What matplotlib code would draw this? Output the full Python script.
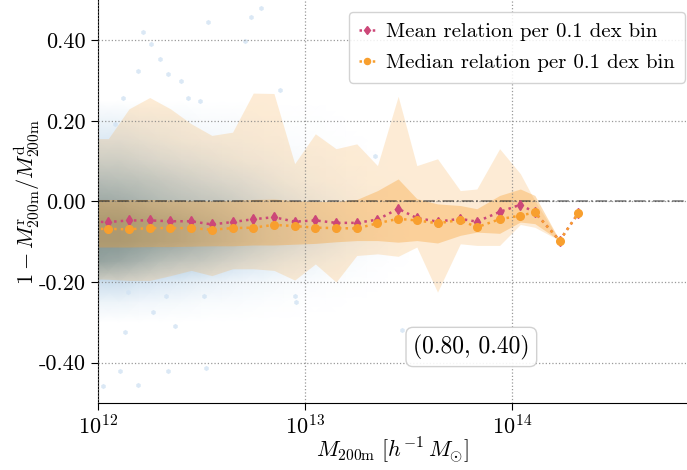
import matplotlib
matplotlib.use('Agg')
import matplotlib.pyplot as plt
from matplotlib.colors import LinearSegmentedColormap
import numpy as np

plt.rcParams['font.family'] = ['cmr10', 'DejaVu Serif']
plt.rcParams['mathtext.fontset'] = 'cm'
plt.rcParams['axes.formatter.use_mathtext'] = True

# log10 mass of each 0.1 dex bin (first one sits just left of the axis)
log_mass = [11.95, 12.05, 12.15, 12.25, 12.35, 12.45, 12.55, 12.65, 12.75, 12.85,
            12.95, 13.05, 13.15, 13.25, 13.35, 13.45, 13.54, 13.64, 13.75, 13.83,
            13.94, 14.04, 14.11, 14.23, 14.32]

mean_rel = [-0.050, -0.051, -0.047, -0.047, -0.049, -0.049, -0.057, -0.051, -0.044, -0.039,
            -0.050, -0.047, -0.053, -0.053, -0.045, -0.018, -0.041, -0.050, -0.043, -0.050,
            -0.026, -0.008, -0.027, -0.097, -0.029]

median_rel = [-0.068, -0.068, -0.069, -0.066, -0.066, -0.066, -0.070, -0.066, -0.065, -0.058,
              -0.061, -0.065, -0.066, -0.067, -0.054, -0.043, -0.047, -0.054, -0.046, -0.064,
              -0.044, -0.035, -0.027, -0.097, -0.029]

# inner (dark) and outer (light) scatter bands
inner_hi = [0.005, 0.005, 0.005, 0.005, 0.004, 0.003, 0.002, 0.003, 0.005, 0.006,
            0.002, 0.000, 0.000, 0.005, 0.027, 0.056, 0.007, -0.006, -0.010, -0.018,
            0.015, 0.031, 0.015, -0.097, -0.029]
inner_lo = [-0.113, -0.113, -0.113, -0.112, -0.112, -0.111, -0.110, -0.110, -0.108, -0.108,
            -0.106, -0.104, -0.100, -0.097, -0.097, -0.101, -0.097, -0.103, -0.084, -0.076,
            -0.079, -0.051, -0.055, -0.097, -0.029]
outer_hi = [0.156, 0.156, 0.230, 0.258, 0.230, 0.193, 0.164, 0.172, 0.269, 0.268,
            0.094, 0.168, 0.131, 0.143, 0.089, 0.261, 0.089, 0.106, 0.027, 0.031,
            0.131, 0.069, 0.002, -0.097, -0.029]
outer_lo = [-0.192, -0.193, -0.196, -0.196, -0.184, -0.171, -0.184, -0.167, -0.167, -0.171,
            -0.195, -0.155, -0.200, -0.134, -0.130, -0.136, -0.113, -0.225, -0.105, -0.109,
            -0.109, -0.057, -0.064, -0.097, -0.029]

# halo density on a coarse grid (rows: offset, cols: log mass)
dens_mass = [12.0, 12.1, 12.2, 12.3, 12.4, 12.5, 12.6, 12.7, 12.8, 12.9,
             13.0, 13.1, 13.2, 13.3, 13.4, 13.5]
dens_off = [0.25, 0.20, 0.15, 0.10, 0.05, 0.00, -0.05, -0.10, -0.15, -0.20, -0.25, -0.30]
density = [
    [0.00, 0.00, 0.00, 0.00, 0.00, 0.00, 0.00, 0.00, 0.00, 0.00, 0.00, 0.00, 0.00, 0.00, 0.00, 0.00],
    [0.15, 0.15, 0.12, 0.10, 0.08, 0.05, 0.05, 0.04, 0.03, 0.02, 0.02, 0.01, 0.00, 0.00, 0.00, 0.00],
    [0.30, 0.30, 0.25, 0.20, 0.15, 0.12, 0.10, 0.08, 0.06, 0.04, 0.03, 0.02, 0.01, 0.00, 0.00, 0.00],
    [0.45, 0.45, 0.40, 0.35, 0.30, 0.25, 0.20, 0.15, 0.12, 0.08, 0.06, 0.04, 0.02, 0.01, 0.00, 0.00],
    [0.65, 0.62, 0.58, 0.52, 0.46, 0.40, 0.35, 0.30, 0.22, 0.15, 0.10, 0.07, 0.04, 0.02, 0.01, 0.00],
    [0.80, 0.78, 0.72, 0.66, 0.60, 0.55, 0.50, 0.42, 0.35, 0.28, 0.20, 0.14, 0.08, 0.04, 0.02, 0.00],
    [0.95, 0.95, 0.90, 0.85, 0.80, 0.72, 0.65, 0.55, 0.45, 0.38, 0.30, 0.22, 0.14, 0.08, 0.04, 0.01],
    [0.95, 0.95, 0.90, 0.85, 0.80, 0.72, 0.65, 0.55, 0.45, 0.38, 0.30, 0.22, 0.14, 0.08, 0.04, 0.01],
    [0.85, 0.80, 0.72, 0.62, 0.55, 0.50, 0.42, 0.35, 0.28, 0.20, 0.15, 0.10, 0.06, 0.03, 0.01, 0.00],
    [0.40, 0.40, 0.35, 0.30, 0.25, 0.20, 0.16, 0.12, 0.10, 0.07, 0.05, 0.03, 0.02, 0.01, 0.00, 0.00],
    [0.15, 0.15, 0.12, 0.10, 0.08, 0.06, 0.05, 0.04, 0.03, 0.02, 0.01, 0.01, 0.00, 0.00, 0.00, 0.00],
    [0.00, 0.00, 0.00, 0.00, 0.00, 0.00, 0.00, 0.00, 0.00, 0.00, 0.00, 0.00, 0.00, 0.00, 0.00, 0.00],
]

# isolated haloes far from the bulk
stray_mass = [12.298, 12.338, 12.40, 12.193, 12.121, 12.435, 12.491, 12.217, 12.255, 12.741,
              12.789, 12.878, 12.709, 12.531, 12.081, 12.145, 12.33, 12.266, 12.37, 12.129,
              12.512, 12.95, 12.105, 12.338, 12.193, 12.024, 12.523, 12.958, 13.34, 13.47]
stray_off = [0.354, 0.316, 0.299, 0.324, 0.258, 0.258, 0.249, 0.421, 0.390, 0.458,
             0.479, 0.276, 0.399, 0.445, 0.193, -0.225, -0.234, -0.275, -0.308, -0.325,
             -0.234, -0.234, -0.420, -0.420, -0.455, -0.457, -0.413, -0.250, 0.114, -0.32]

pink = '#cc4778'
orange = '#f89f2e'

fig = plt.figure(figsize=(6.87, 4.70), dpi=100)
ax = fig.add_axes([0.1426, 0.1426, 0.8559, 0.8574])

m = 10 ** np.array(log_mass)

# opaque map so the gouraud triangles leave no seams
blues = LinearSegmentedColormap.from_list(
    'halo', [(1.0, 1.0, 1.0), (0.84, 0.90, 0.95), (0.64, 0.76, 0.84), (0.38, 0.56, 0.66)])
DM, DO = np.meshgrid(10 ** np.array(dens_mass), dens_off)
ax.pcolormesh(DM, DO, np.array(density), cmap=blues, vmin=0, vmax=1,
              shading='gouraud', zorder=0.5, antialiased=False)
ax.scatter(10 ** np.array(stray_mass), stray_off, s=14, marker='h',
           color='#d2e3f3', alpha=0.8, linewidths=0, zorder=0.6)

ax.fill_between(m, outer_lo, outer_hi, color=orange, alpha=0.2, lw=0, zorder=1)
ax.fill_between(m, inner_lo, inner_hi, color=orange, alpha=0.35, lw=0, zorder=1.1)

ax.axhline(0, color='k', ls='-.', lw=1.3, alpha=0.45, zorder=2.6)

ax.plot(m, mean_rel, ls=':', lw=1.8, color=pink, marker='d', ms=5.5,
        label='Mean relation per 0.1 dex bin', zorder=3)
ax.plot(m, median_rel, ls=':', lw=1.8, color=orange, marker='o', ms=5.5,
        label='Median relation per 0.1 dex bin', zorder=3.1)

ax.set_xscale('log')
ax.set_xlim(1e12, 10 ** 14.84)
ax.set_ylim(-0.5, 0.5)
ax.set_yticks([-0.4, -0.2, 0.0, 0.2, 0.4])
ax.set_yticklabels(['-0.40', '-0.20', '0.00', '0.20', '0.40'])
ax.minorticks_off()
ax.tick_params(labelsize=16, direction='out', length=5)

ax.set_axisbelow(False)
ax.grid(True, ls=':', color='gray', lw=0.9, alpha=0.8)
for s in ['top', 'right']:
    ax.spines[s].set_visible(False)

ax.set_xlabel(r'$M_{\rm 200m}\ [h^{-1}\, M_{\odot}]$', fontsize=16, labelpad=-3)
ax.set_ylabel(r'$1 - M^{\rm r}_{\rm 200m}/M^{\rm d}_{\rm 200m}$', fontsize=16, labelpad=-2)

leg = ax.legend(loc='upper right', fontsize=15, handlelength=0.8, handletextpad=0.5,
                borderpad=0.5, labelspacing=0.6, framealpha=0.85, edgecolor='#cccccc',
                markerscale=0.8, bbox_to_anchor=(0.999, 0.970), borderaxespad=0)

ax.text(0.635, 0.139, '(0.80, 0.40)', transform=ax.transAxes, ha='center', va='center',
        fontsize=17, bbox=dict(boxstyle='round,pad=0.3', fc='white', ec='#cccccc', alpha=0.9),
        zorder=5)

fig.savefig('out.png', dpi=100)
